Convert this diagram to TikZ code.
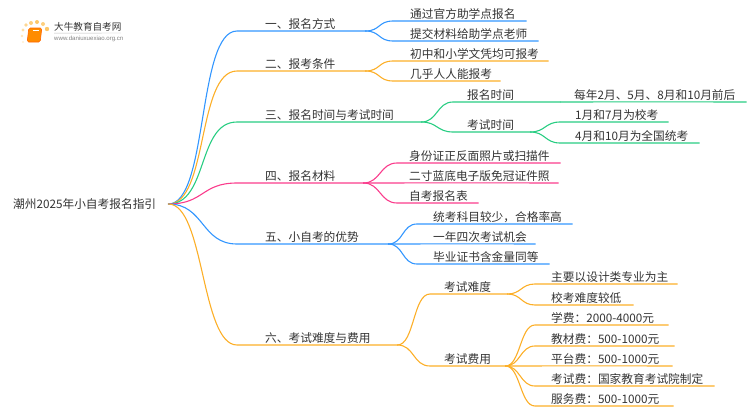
\documentclass[tikz,border=0pt]{standalone}
\usepackage{fontspec}
\setmainfont{Noto Sans CJK SC}
\newfontfamily\urlfont{Liberation Sans}
\definecolor{mblue}{RGB}{50,150,255}
\definecolor{morange}{RGB}{252,175,40}
\definecolor{mgreen}{RGB}{40,205,130}
\definecolor{mpink}{RGB}{250,60,140}
\definecolor{mtext}{RGB}{51,51,51}
\tikzset{
  topic/.style={anchor=south west,inner xsep=0pt,inner ysep=1pt,align=left,font=\fontsize{11.7}{13}\selectfont,text=mtext},
  link/.style={line width=1.1pt,line cap=round}
}
% name, left, right, y of the line, indent of the text, text
\newcommand{\branch}[6]{\node[topic,text width=\dimexpr#3pt-#2pt\relax] (#1) at (#2,#4) {\hspace*{#5pt}#6};}

\begin{document}
\begin{tikzpicture}[x=1pt,y=-1pt]
  \useasboundingbox (0,0) rectangle (750,410);
  % logo
  \foreach \px/\py/\pr/\pc in {23/30/1.6/40,26/25/1.8/50,31/23/2/60,37/22/2/70,43/24/2/60,47/29/2.2/70,22/36/1.3/30,23/42/1.1/20}
    \fill[morange!\pc] (\px,\py) circle (\pr);
  \node[rounded corners=1.5pt,fill=orange!90!yellow,draw=orange!80!red,line width=0.6pt,minimum width=13pt,minimum height=14pt,inner sep=0pt,xslant=0.12] (book) at (34.5,35) {};
  \draw[white,line width=0.6pt] (book.north west)++(4,3) -- ++(6,0);
  \node[anchor=west,inner sep=0pt,font=\fontsize{9.6}{11}\selectfont,text=mtext] (logotitle) at (54,27) {大牛教育自考网};
  \node[anchor=west,inner sep=0pt,font=\urlfont\fontsize{6.1}{7}\selectfont,text=gray] (logourl) at (54,38.5) {www.daniuxuexiao.org.cn};
  \draw[lightgray,line width=0.4pt] (logotitle.south west)++(0,1.5) -- (121,33);

  \node[anchor=west,inner sep=0pt,text width=155pt,font=\fontsize{11.7}{13}\selectfont,text=mtext] (root) at (13,204) {潮州2025年小自考报名指引};

  % first level
  \branch{way}{237}{365}{31}{28}{一、报名方式}
  \branch{cond}{237}{365}{71}{28}{二、报考条件}
  \branch{time}{237}{421}{122}{28}{三、报名时间与考试时间}
  \branch{doc}{237}{363}{183}{28}{四、报名材料}
  \branch{good}{237}{388}{244}{28}{五、小自考的优势}
  \branch{cost}{237}{397}{345}{28}{六、考试难度与费用}

  % second level
  \branch{wayA}{393}{526}{21}{17}{通过官方助学点报名}
  \branch{wayB}{393}{538}{41}{17}{提交材料给助学点老师}
  \branch{condA}{393}{548}{61}{17}{初中和小学文凭均可报考}
  \branch{condB}{393}{500}{81}{17}{几乎人人能报考}
  \branch{timeA}{453}{560}{102}{14}{报名时间}
  \branch{timeB}{453}{530}{132}{14}{考试时间}
  \branch{docA}{397}{560}{163}{12}{身份证正反面照片或扫描件}
  \branch{docB}{397}{558}{183}{12}{二寸蓝底电子版免冠证件照}
  \branch{docC}{397}{478}{203}{12}{自考报名表}
  \branch{goodA}{417}{572}{224}{16}{统考科目较少，合格率高}
  \branch{goodB}{417}{535}{244}{16}{一年四次考试机会}
  \branch{goodC}{417}{549}{264}{16}{毕业证书含金量同等}
  \branch{costA}{430}{507}{294}{14}{考试难度}
  \branch{costB}{430}{505}{366}{14}{考试费用}

  % third level
  \branch{timeAa}{560}{746}{102}{14}{每年2月、5月、8月和10月前后}
  \branch{timeBa}{560}{668}{122}{15}{1月和7月为校考}
  \branch{timeBb}{560}{699}{143}{15}{4月和10月为全国统考}
  \branch{costAa}{535}{677}{284}{16}{主要以设计类专业为主}
  \branch{costAb}{535}{633}{305}{16}{校考难度较低}
  \branch{costBa}{535}{668}{325}{16}{学费：2000-4000元}
  \branch{costBb}{535}{674}{346}{16}{教材费：500-1000元}
  \branch{costBc}{535}{672}{366}{16}{平台费：500-1000元}
  \branch{costBd}{535}{714}{386}{16}{考试费：国家教育考试院制定}
  \branch{costBe}{535}{673}{406}{16}{服务费：500-1000元}

  % from the root
  \foreach \b/\c/\d in {way/mblue/40,cond/morange/40,time/mgreen/40,doc/mpink/36,good/mblue/36,cost/morange/36}
    \draw[link,\c] (root.east) .. controls +(\d,0) and +(-\d,0) .. (\b.south west) -- (\b.south east);

  % forks
  \foreach \a/\b/\c/\d in {way/wayA/mblue/15,way/wayB/mblue/15,cond/condA/morange/15,cond/condB/morange/15,
    time/timeA/mgreen/16,time/timeB/mgreen/16,timeB/timeBa/mgreen/15,timeB/timeBb/mgreen/15,
    doc/docA/mpink/17,doc/docC/mpink/17,good/goodA/mblue/15,good/goodC/mblue/15,
    cost/costA/morange/17,cost/costB/morange/17,costA/costAa/morange/14,costA/costAb/morange/14,
    costB/costBa/morange/15,costB/costBb/morange/15,costB/costBd/morange/15,costB/costBe/morange/15}
    \draw[link,\c] (\a.south east) .. controls +(\d,0) and +(-\d,0) .. (\b.south west) -- (\b.south east);

  % straight on
  \foreach \a/\b/\c in {timeA/timeAa/mgreen,doc/docB/mpink,good/goodB/mblue,costB/costBc/morange}
    \draw[link,\c] (\a.south east) -- ([yshift=0.15pt]\b.south) -- (\b.south east);
\end{tikzpicture}
\end{document}
